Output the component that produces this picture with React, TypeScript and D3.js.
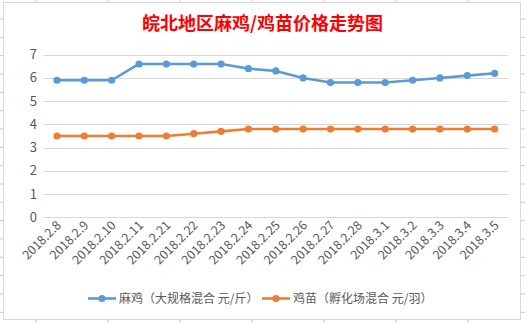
import React from "react";
import * as d3 from "d3";

const categories = ["2018.2.8","2018.2.9","2018.2.10","2018.2.11","2018.2.21","2018.2.22","2018.2.23","2018.2.24","2018.2.25","2018.2.26","2018.2.27","2018.2.28","2018.3.1","2018.3.2","2018.3.3","2018.3.4","2018.3.5"];
const maji = [5.9,5.9,5.9,6.6,6.6,6.6,6.6,6.4,6.3,6.0,5.8,5.8,5.8,5.9,6.0,6.1,6.2];
const jimiao = [3.5,3.5,3.5,3.5,3.5,3.6,3.7,3.8,3.8,3.8,3.8,3.8,3.8,3.8,3.8,3.8,3.8];
const yTicks = [0,1,2,3,4,5,6,7];
const seriesNames = ["麻鸡（大规格混合 元/斤）", "鸡苗（孵化场混合 元/羽）"];
const title = "皖北地区麻鸡/鸡苗价格走势图";

const W = 525, H = 323;
const BLUE = "#5B9BD5", ORANGE = "#ED7D31";
const FONT = "'Noto Sans CJK SC', 'Liberation Sans', sans-serif";

export default function App() {
  const x = d3.scaleBand<string>().domain(categories).range([43.3, 508.3]);
  const y = d3.scaleLinear().domain([0, 7]).range([217.3, 54.7]);
  const cx = (c: string) => (x(c) as number) + x.bandwidth() / 2;
  const line = d3.line<number>().x((_, i) => cx(categories[i])).y(d => y(d));
  const series = [
    { name: seriesNames[0], data: maji, color: BLUE },
    { name: seriesNames[1], data: jimiao, color: ORANGE },
  ];
  const colTicks = [36, 108, 180, 252, 324, 396, 468];
  const rowTicks = d3.range(0, 18).map(i => 19 + i * 18.33).filter(v => v < 320);
  return (
    <div style={{ position: "absolute", left: 0, top: 0 }}>
      <svg width={W} height={H} style={{ display: "block" }}>
        <rect x={0} y={0} width={W} height={H} fill="#fff" />
        {colTicks.map(t => (
          <g key={"c" + t}>
            <line x1={t} x2={t} y1={0} y2={2} stroke="#C8C8C8" />
            <line x1={t} x2={t} y1={320} y2={323} stroke="#C8C8C8" />
          </g>
        ))}
        {rowTicks.map(t => (
          <g key={"r" + t}>
            <line x1={0} x2={3} y1={t} y2={t} stroke="#C8C8C8" />
            <line x1={521} x2={525} y1={t} y2={t} stroke="#C8C8C8" />
          </g>
        ))}
        <rect x={3.5} y={2.5} width={517} height={317} fill="#fff" stroke="#D9D9D9" />
        <text x={262.5} y={30} textAnchor="middle" fontFamily={FONT} fontWeight="bold" fontSize={18} fill="#FF0000">{title}</text>
        {yTicks.map(t => (
          <g key={t}>
            <line x1={43.3} x2={508.3} y1={Math.round(y(t)) + 0.5} y2={Math.round(y(t)) + 0.5} stroke="#D9D9D9" />
            <text x={37} y={y(t) + 4.5} textAnchor="end" fontFamily={FONT} fontSize={13} fill="#595959">{t}</text>
          </g>
        ))}
        {categories.map(c => (
          <text key={c} transform={`translate(${cx(c) + 5},${226}) rotate(-45)`} textAnchor="end" fontFamily={FONT} fontSize={12.5} fill="#595959">{c}</text>
        ))}
        {series.map(s => (
          <g key={s.name}>
            <path d={line(s.data) as string} fill="none" stroke={s.color} strokeWidth={2.6} strokeLinejoin="round" />
            {s.data.map((v, i) => (
              <circle key={i} cx={cx(categories[i])} cy={y(v)} r={3.6} fill={s.color} />
            ))}
          </g>
        ))}
        {series.map((s, i) => {
          const lx = i === 0 ? 88 : 262;
          return (
            <g key={"l" + i}>
              <line x1={lx} x2={lx + 28} y1={298.5} y2={298.5} stroke={s.color} strokeWidth={2.6} />
              <circle cx={lx + 14} cy={298.5} r={3.6} fill={s.color} />
              <text x={lx + 31} y={303} fontFamily={FONT} fontSize={12} fill="#595959">{s.name}</text>
            </g>
          );
        })}
      </svg>
    </div>
  );
}
